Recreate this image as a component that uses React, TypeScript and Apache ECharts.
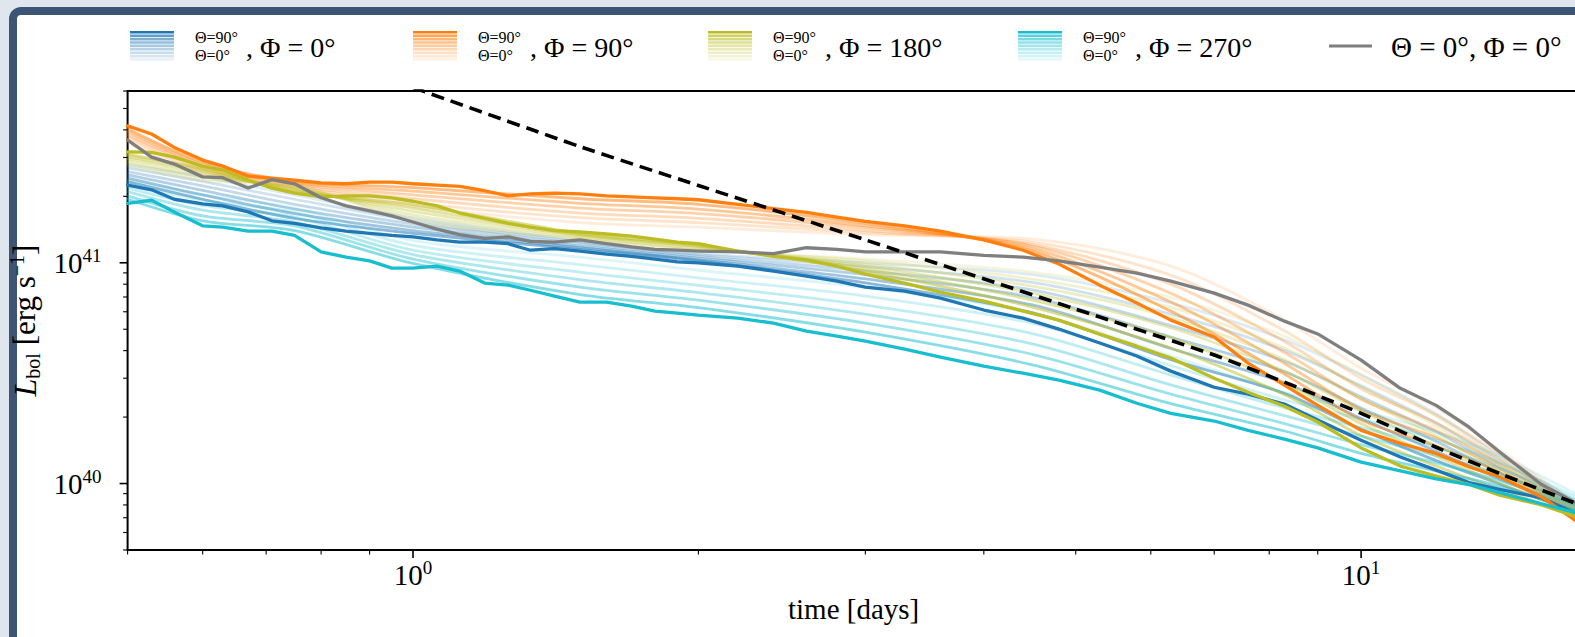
import { useEffect, useRef } from "react";
import * as echarts from "echarts";

// ---------------- data (luminosity in units of 1e40 erg/s, time in days) ----------------
const boldTimes = [0.5, 0.53, 0.56, 0.6, 0.63, 0.67, 0.71, 0.75, 0.8, 0.85, 0.9, 0.95, 1.0, 1.06, 1.12, 1.19, 1.26, 1.33, 1.41, 1.5, 1.6, 1.7, 1.8, 1.9, 2.0, 2.2, 2.4, 2.6, 2.8, 3.0, 3.3, 3.6, 4.0, 4.4, 4.8, 5.3, 5.8, 6.3, 7.0, 7.6, 8.3, 9.0, 10, 11, 12, 13, 14, 15.5, 17];

const blueBold = [22.5, 21.4, 19.4, 18.5, 18.1, 17.0, 15.5, 15.1, 14.4, 13.9, 13.6, 13.3, 13.1, 12.7, 12.4, 12.4, 12.2, 11.4, 11.6, 11.3, 10.95, 10.7, 10.4, 10.1, 9.99, 9.66, 9.17, 8.71, 8.26, 7.76, 7.44, 6.92, 6.11, 5.61, 5.01, 4.33, 3.78, 3.23, 2.73, 2.54, 2.29, 1.94, 1.57, 1.32, 1.15, 1.01, 0.94, 0.86, 0.72];
const orangeBold = [41.7, 38.3, 33.3, 29.2, 27.4, 24.7, 24.2, 23.7, 23.0, 22.8, 23.2, 23.2, 22.8, 22.5, 22.2, 21.2, 20.1, 20.5, 20.7, 20.5, 20.1, 19.9, 19.7, 19.5, 19.3, 18.4, 17.6, 16.9, 16.1, 15.4, 14.7, 13.9, 12.7, 11.4, 9.87, 7.92, 6.57, 5.5, 4.61, 3.51, 2.79, 2.26, 1.74, 1.52, 1.37, 1.19, 1.07, 0.87, 0.66];
const oliveBold = [31.8, 31.6, 30.1, 27.4, 26.3, 23.7, 21.8, 20.7, 19.9, 20.1, 20.1, 19.7, 19.0, 18.1, 16.8, 15.9, 15.1, 14.5, 14.0, 13.8, 13.5, 13.2, 12.8, 12.4, 12.2, 11.3, 10.7, 10.3, 9.66, 8.89, 8.09, 7.36, 6.71, 6.04, 5.5, 4.75, 4.19, 3.7, 3.0, 2.59, 2.24, 1.9, 1.45, 1.2, 1.08, 0.99, 0.885, 0.8, 0.7];
const cyanBold = [18.6, 19.2, 17.0, 14.7, 14.5, 13.9, 13.9, 13.3, 11.2, 10.6, 10.2, 9.46, 9.46, 9.66, 9.17, 8.09, 7.92, 7.51, 7.07, 6.64, 6.64, 6.37, 6.04, 5.92, 5.79, 5.61, 5.33, 4.9, 4.65, 4.42, 4.06, 3.74, 3.4, 3.16, 2.94, 2.65, 2.31, 2.08, 1.92, 1.74, 1.59, 1.45, 1.25, 1.14, 1.05, 0.99, 0.91, 0.81, 0.73];
const grayPole = [36.0, 30.1, 28.0, 24.5, 24.3, 21.8, 23.8, 22.8, 19.7, 18.1, 17.2, 16.3, 15.3, 14.2, 13.4, 12.9, 13.1, 12.5, 12.4, 12.7, 12.2, 11.8, 11.5, 11.4, 11.3, 11.2, 11.0, 11.7, 11.5, 11.2, 11.2, 11.2, 10.8, 10.6, 10.2, 9.56, 8.98, 8.26, 7.29, 6.43, 5.44, 4.76, 3.62, 2.7, 2.26, 1.8, 1.39, 0.99, 0.8];

const paleTimes = [0.5, 0.6, 0.75, 1.0, 1.5, 2.0, 3.0, 4.5, 6.3, 8.3, 10, 12, 14, 17];

const bluePale = [
  [27.8, 24.5, 20.3, 16.0, 12.6, 11.0, 10.0, 8.83, 6.58, 4.48, 3.1, 2.07, 1.33, 0.815],
  [26.9, 23.4, 19.4, 15.5, 12.4, 10.9, 9.62, 8.15, 5.85, 4.01, 2.77, 1.88, 1.26, 0.8],
  [25.9, 22.3, 18.4, 15.0, 12.2, 10.7, 9.2, 7.53, 5.19, 3.58, 2.47, 1.71, 1.19, 0.78],
  [25.0, 21.3, 17.5, 14.5, 11.9, 10.5, 8.83, 6.97, 4.61, 3.21, 2.2, 1.55, 1.12, 0.77],
  [24.2, 20.3, 16.7, 14.0, 11.7, 10.3, 8.45, 6.44, 4.09, 2.86, 1.97, 1.4, 1.05, 0.75],
  [23.3, 19.4, 15.9, 13.6, 11.5, 10.2, 8.11, 5.94, 3.64, 2.56, 1.76, 1.27, 0.995, 0.73],
];
const orangePale = [
  [34.9, 25.6, 21.7, 18.0, 15.2, 14.5, 13.4, 12.8, 9.66, 5.51, 3.33, 2.21, 1.42, 0.79],
  [36.0, 26.2, 22.0, 18.7, 16.0, 15.2, 13.7, 12.4, 8.79, 4.92, 2.99, 2.04, 1.36, 0.77],
  [37.1, 26.8, 22.3, 19.5, 16.8, 15.9, 14.0, 12.1, 8.0, 4.4, 2.69, 1.88, 1.29, 0.74],
  [38.1, 27.4, 22.7, 20.3, 17.7, 16.7, 14.4, 11.9, 7.28, 3.92, 2.41, 1.74, 1.23, 0.72],
  [39.3, 27.9, 23.0, 21.1, 18.6, 17.5, 14.7, 11.6, 6.64, 3.5, 2.16, 1.61, 1.17, 0.7],
  [40.5, 28.6, 23.4, 21.9, 19.5, 18.4, 15.1, 11.3, 6.04, 3.13, 1.94, 1.48, 1.12, 0.68],
];
const olivePale = [
  [27.5, 23.5, 22.6, 15.3, 12.8, 11.4, 10.4, 9.08, 6.98, 4.65, 3.12, 2.02, 1.29, 0.8],
  [28.2, 24.1, 22.2, 15.9, 12.9, 11.5, 10.2, 8.43, 6.28, 4.11, 2.75, 1.82, 1.22, 0.78],
  [28.9, 24.7, 21.9, 16.5, 13.1, 11.6, 9.89, 7.83, 5.65, 3.64, 2.42, 1.64, 1.14, 0.76],
  [29.6, 25.4, 21.6, 17.1, 13.3, 11.8, 9.64, 7.29, 5.08, 3.23, 2.13, 1.48, 1.07, 0.75],
  [30.3, 26.1, 21.3, 17.7, 13.4, 11.9, 9.38, 6.78, 4.57, 2.86, 1.87, 1.33, 1.0, 0.73],
  [31.0, 26.7, 21.0, 18.3, 13.6, 12.0, 9.14, 6.3, 4.11, 2.53, 1.65, 1.2, 0.94, 0.71],
];
const cyanPale = [
  [23.6, 20.3, 17.7, 12.6, 10.6, 9.25, 7.74, 5.93, 3.78, 2.59, 2.14, 1.71, 1.33, 0.88],
  [22.7, 19.2, 16.9, 12.0, 9.82, 8.55, 7.06, 5.32, 3.42, 2.39, 1.96, 1.58, 1.24, 0.855],
  [21.8, 18.2, 16.1, 11.4, 9.08, 7.91, 6.43, 4.78, 3.1, 2.2, 1.79, 1.46, 1.17, 0.83],
  [21.0, 17.3, 15.3, 10.9, 8.39, 7.33, 5.85, 4.29, 2.8, 2.03, 1.64, 1.34, 1.1, 0.8],
  [20.1, 16.3, 14.7, 10.4, 7.76, 6.78, 5.33, 3.85, 2.54, 1.87, 1.5, 1.24, 1.03, 0.78],
  [19.4, 15.5, 14.0, 9.93, 7.18, 6.27, 4.85, 3.45, 2.3, 1.73, 1.37, 1.14, 0.97, 0.75],
];

const fitTimes = [1.0, 1.5, 2.0, 3.0, 5.0, 7.0, 8.3, 10, 12, 14, 17];
const fitValues = [62.2, 33.6, 22.4, 12.7, 6.17, 3.82, 2.88, 2.08, 1.46, 1.11, 0.8];

const xMajorTicks = [1, 10];
const xMinorTicks = [0.5, 0.6, 0.7, 0.8, 0.9, 2, 3, 4, 5, 6, 7, 8, 9];
const yMajorTicks = [1, 10];
const yMinorTicks = [0.5, 0.6, 0.7, 0.8, 0.9, 2, 3, 4, 5, 6, 7, 8, 9, 20, 30, 40, 50, 60];

const phiLabels = [", Φ = 0°", ", Φ = 90°", ", Φ = 180°", ", Φ = 270°"];
const stackTop = "Θ=90°";
const stackBottom = "Θ=0°";
const poleLabel = "Θ = 0°, Φ = 0°";

// ---------------- styles / layout ----------------
const FONT = "'Liberation Serif', 'DejaVu Serif', serif";
const groupColors = ["#1f77b4", "#ff7f0e", "#bcbd22", "#17becf"];
const grayColor = "#7f7f7f";
const paleOpacity = [0.15, 0.21, 0.28, 0.35, 0.43, 0.52];
const stripeOpacity = [1, 0.7, 0.58, 0.48, 0.4, 0.32, 0.25, 0.18, 0.11];
const legendLayout = [
  { patchX: 130, stackX: 195, textX: 246 },
  { patchX: 413, stackX: 478, textX: 530 },
  { patchX: 708, stackX: 773, textX: 825 },
  { patchX: 1018, stackX: 1083, textX: 1135 },
];

const isPow10 = (v: number) => {
  const e = Math.log10(v);
  return Math.abs(e - Math.round(e)) < 1e-6;
};
const pairs = (ts: number[], vs: number[]) => ts.map((t, i) => [t, vs[i]]);

export default function App() {
  const ref = useRef<HTMLDivElement>(null);

  useEffect(() => {
    if (!ref.current) return;
    const chart = echarts.init(ref.current, undefined, { renderer: "svg" });

    const groups = [
      { color: groupColors[0], bold: blueBold, pale: bluePale },
      { color: groupColors[1], bold: orangeBold, pale: orangePale },
      { color: groupColors[2], bold: oliveBold, pale: olivePale },
      { color: groupColors[3], bold: cyanBold, pale: cyanPale },
    ];

    const series: any[] = [];
    groups.forEach((g) =>
      g.pale.forEach((vals, k) =>
        series.push({
          type: "line",
          data: pairs(paleTimes, vals),
          symbol: "none",
          smooth: 0.3,
          silent: true,
          z: 2,
          lineStyle: { color: g.color, width: 2.8, opacity: paleOpacity[k], cap: "round", join: "round" },
        })
      )
    );
    groups.forEach((g) =>
      series.push({
        type: "line",
        data: pairs(boldTimes, g.bold),
        symbol: "none",
        silent: true,
        z: 3,
        lineStyle: { color: g.color, width: 3.3, cap: "round", join: "round" },
      })
    );
    series.push({
      type: "line",
      data: pairs(boldTimes, grayPole),
      symbol: "none",
      silent: true,
      z: 4,
      lineStyle: { color: grayColor, width: 3.3, cap: "round", join: "round" },
    });
    series.push({
      type: "line",
      data: pairs(fitTimes, fitValues),
      symbol: "none",
      smooth: 0.2,
      silent: true,
      z: 5,
      lineStyle: { color: "#000", width: 3.6, type: [13, 7] },
    });
    // tick marks (outward, major + minor), positioned through the axes' scales
    series.push({
      type: "custom",
      silent: true,
      clip: false,
      z: 10,
      encode: { x: 0, y: 1 },
      data: [...xMajorTicks.map((t) => [t, 0.5, 1]), ...xMinorTicks.map((t) => [t, 0.5, 0])],
      renderItem: (_p: any, api: any) => {
        const pt = api.coord([api.value(0), api.value(1)]);
        const major = api.value(2) === 1;
        return {
          type: "line",
          shape: { x1: pt[0], y1: pt[1], x2: pt[0], y2: pt[1] + (major ? 8 : 4.5) },
          style: { stroke: "#000", lineWidth: major ? 1.6 : 1.1 },
        };
      },
    });
    series.push({
      type: "custom",
      silent: true,
      clip: false,
      z: 10,
      encode: { x: 0, y: 1 },
      data: [...yMajorTicks.map((v) => [0.5, v, 1]), ...yMinorTicks.map((v) => [0.5, v, 0])],
      renderItem: (_p: any, api: any) => {
        const pt = api.coord([api.value(0), api.value(1)]);
        const major = api.value(2) === 1;
        return {
          type: "line",
          shape: { x1: pt[0], y1: pt[1], x2: pt[0] - (major ? 8 : 4.5), y2: pt[1] },
          style: { stroke: "#000", lineWidth: major ? 1.6 : 1.1 },
        };
      },
    });

    // legend drawn as graphic elements
    const textStyle = (text: string, size: number) => ({
      text,
      fontFamily: FONT,
      fontSize: size,
      lineHeight: size,
      fill: "#000",
      align: "left",
      verticalAlign: "middle",
      textAlign: "left",
      textVerticalAlign: "middle",
    });
    const graphic: any[] = [];
    legendLayout.forEach((L, gi) => {
      stripeOpacity.forEach((a, si) =>
        graphic.push({
          type: "rect",
          silent: true,
          shape: { x: L.patchX, y: 31 + si * 3.4, width: 44, height: 2.6 },
          style: { fill: groupColors[gi], opacity: a },
        })
      );
      graphic.push({ type: "text", silent: true, x: L.stackX, y: 37.5, style: textStyle(stackTop, 16) });
      graphic.push({ type: "text", silent: true, x: L.stackX, y: 55.5, style: textStyle(stackBottom, 16) });
      graphic.push({ type: "text", silent: true, x: L.textX, y: 47, style: textStyle(phiLabels[gi], 28) });
    });
    graphic.push({
      type: "line",
      silent: true,
      shape: { x1: 1329, y1: 46, x2: 1372, y2: 46 },
      style: { stroke: grayColor, lineWidth: 3 },
    });
    graphic.push({ type: "text", silent: true, x: 1391, y: 47, style: textStyle(poleLabel, 29) });

    const richTick = {
      b: { fontFamily: FONT, fontSize: 29, lineHeight: 34, color: "#000" },
      s: { fontFamily: FONT, fontSize: 19, lineHeight: 22, verticalAlign: "top", color: "#000" },
    };

    chart.setOption({
      animation: false,
      grid: {
        left: 127.6,
        top: 91,
        width: 1452,
        height: 459,
        show: true,
        borderColor: "#000",
        borderWidth: 2,
        backgroundColor: "transparent",
        containLabel: false,
        outerBoundsMode: "none",
      },
      xAxis: {
        type: "log",
        logBase: 10,
        min: 0.5,
        max: 17,
        axisLine: { show: false },
        axisTick: { show: false },
        minorTick: { show: false },
        splitLine: { show: false },
        axisLabel: {
          margin: 8,
          fontFamily: FONT,
          formatter: (v: number) => (isPow10(v) ? `{b|10}{s|${Math.round(Math.log10(v))}}` : ""),
          rich: richTick,
        },
        name: "time [days]",
        nameLocation: "middle",
        nameGap: 44,
        nameTextStyle: { fontFamily: FONT, fontSize: 29, color: "#000" },
      },
      yAxis: {
        type: "log",
        logBase: 10,
        min: 0.5,
        max: 60,
        axisLine: { show: false },
        axisTick: { show: false },
        minorTick: { show: false },
        splitLine: { show: false },
        axisLabel: {
          margin: 26,
          fontFamily: FONT,
          formatter: (v: number) => (isPow10(v) ? `{b|10}{s|${Math.round(Math.log10(v)) + 40}}` : ""),
          rich: richTick,
        },
        name: "{i|L}{sub|bol} [erg s{sup|−1}]",
        nameLocation: "middle",
        nameGap: 78,
        nameRotate: 90,
        nameTextStyle: {
          fontFamily: FONT,
          fontSize: 31,
          color: "#000",
          rich: {
            i: { fontFamily: FONT, fontSize: 32, fontStyle: "italic", lineHeight: 36, color: "#000" },
            sub: { fontFamily: FONT, fontSize: 20, lineHeight: 24, verticalAlign: "bottom", color: "#000" },
            sup: { fontFamily: FONT, fontSize: 20, lineHeight: 24, verticalAlign: "top", color: "#000" },
          },
        },
      },
      graphic,
      series,
    });

    return () => chart.dispose();
  }, []);

  return (
    <div style={{ position: "fixed", left: 0, top: 0, width: 1575, height: 637, background: "#dfe6ee", overflow: "hidden" }}>
      <div
        style={{
          position: "absolute",
          left: 9,
          top: 7,
          width: 1700,
          height: 800,
          boxSizing: "border-box",
          border: "8px solid #3c5575",
          borderRadius: 12,
          background: "#ffffff",
        }}
      />
      <div ref={ref} style={{ position: "absolute", left: 0, top: 0, width: 1575, height: 637 }} />
    </div>
  );
}
